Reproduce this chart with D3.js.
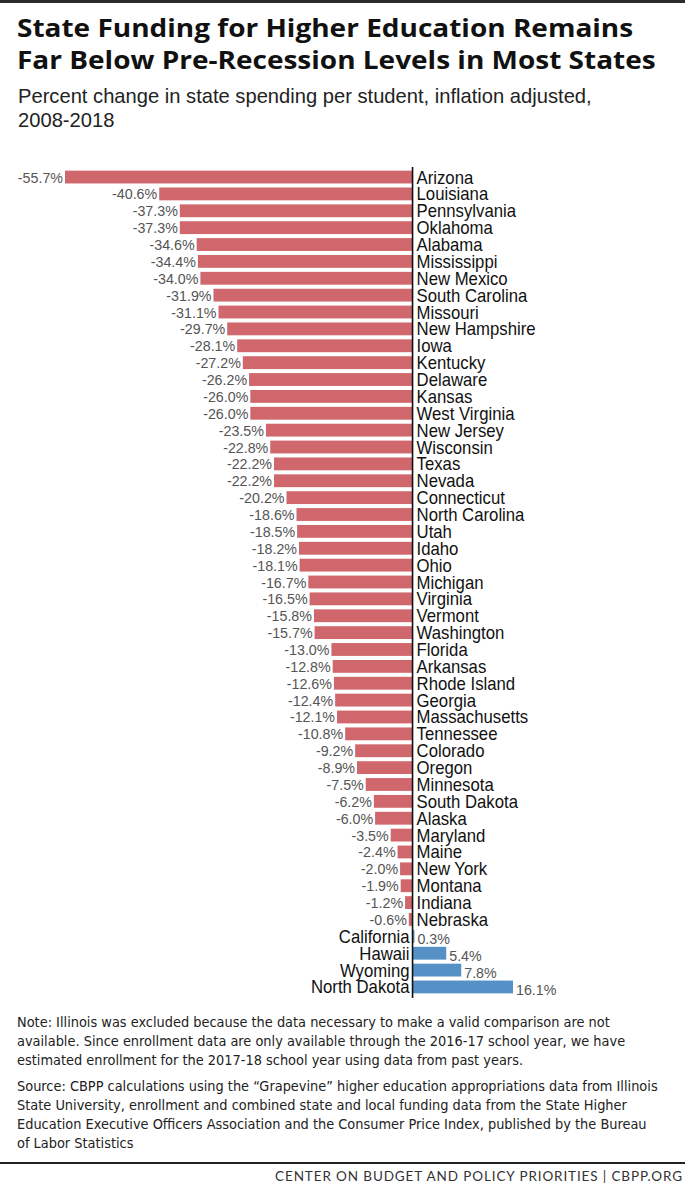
<!DOCTYPE html>
<html>
<head>
<meta charset="utf-8">
<script src="https://cdn.jsdelivr.net/npm/d3@7"></script>
<style>
  body { margin: 0; background: #fff; }
  svg { display: block; }
</style>
</head>
<body>
<script>
// states ordered top to bottom, values in percent
var states = ["Arizona", "Louisiana", "Pennsylvania", "Oklahoma", "Alabama", "Mississippi", "New Mexico",
  "South Carolina", "Missouri", "New Hampshire", "Iowa", "Kentucky", "Delaware", "Kansas", "West Virginia",
  "New Jersey", "Wisconsin", "Texas", "Nevada", "Connecticut", "North Carolina", "Utah", "Idaho", "Ohio",
  "Michigan", "Virginia", "Vermont", "Washington", "Florida", "Arkansas", "Rhode Island", "Georgia",
  "Massachusetts", "Tennessee", "Colorado", "Oregon", "Minnesota", "South Dakota", "Alaska", "Maryland",
  "Maine", "New York", "Montana", "Indiana", "Nebraska", "California", "Hawaii", "Wyoming", "North Dakota"]
var values = [-55.7, -40.6, -37.3, -37.3, -34.6, -34.4, -34.0, -31.9, -31.1, -29.7, -28.1, -27.2, -26.2,
  -26.0, -26.0, -23.5, -22.8, -22.2, -22.2, -20.2, -18.6, -18.5, -18.2, -18.1, -16.7, -16.5, -15.8, -15.7,
  -13.0, -12.8, -12.6, -12.4, -12.1, -10.8, -9.2, -8.9, -7.5, -6.2, -6.0, -3.5, -2.4, -2.0, -1.9, -1.2,
  -0.6, 0.3, 5.4, 7.8, 16.1]

var titleLines = ["State Funding for Higher Education Remains", "Far Below Pre-Recession Levels in Most States"]
var subtitleLines = ["Percent change in state spending per student, inflation adjusted,", "2008-2018"]
var noteLines = ["Note: Illinois was excluded because the data necessary to make a valid comparison are not",
  "available. Since enrollment data are only available through the 2016-17 school year, we have",
  "estimated enrollment for the 2017-18 school year using data from past years."]
var sourceLines = ["Source: CBPP calculations using the \u201cGrapevine\u201d higher education appropriations data from Illinois",
  "State University, enrollment and combined state and local funding data from the State Higher",
  "Education Executive Officers Association and the Consumer Price Index, published by the Bureau",
  "of Labor Statistics"]
var footer = "CENTER ON BUDGET AND POLICY PRIORITIES | CBPP.ORG"

var W = 685, H = 1183
var sans = "'Liberation Sans', Arial, sans-serif"
var boldFont = "'Open Sans', 'Lato', sans-serif"
var noteFont = "'DejaVu Sans Condensed', 'DejaVu Sans', sans-serif"

var data = states.map((s, i) => ({ state: s, value: values[i] }))

// squeeze/stretch text horizontally around its anchor point
function place(x, y, sx) {
  return "translate(" + x + "," + y + ") scale(" + sx + ",1)"
}

var svg = d3.select("body").append("svg")
  .attr("width", W)
  .attr("height", H)

// top rule
svg.append("rect").attr("x", 0).attr("y", 0).attr("width", W).attr("height", 3).attr("fill", "#2b2b2b")

svg.append("g").selectAll("text")
  .data(titleLines)
  .enter().append("text")
  .attr("transform", (d, i) => place(17, 37 + i * 32, 1.12))
  .attr("font-family", boldFont)
  .attr("font-weight", 700)
  .attr("font-size", 25)
  .attr("fill", "#111")
  .text(d => d)

svg.append("g").selectAll("text")
  .data(subtitleLines)
  .enter().append("text")
  .attr("transform", (d, i) => place(18, 103 + i * 24, 0.96))
  .attr("font-family", sans)
  .attr("font-size", 21)
  .attr("fill", "#222")
  .text(d => d)

var x = d3.scaleLinear()
  .domain([-55.7, 16.1])
  .range([65, 513])

var y = d3.scaleBand()
  .domain(states)
  .range([168.6, 995.4])
  .paddingInner(0.24)
  .paddingOuter(0.12)

var bars = svg.append("g")

bars.selectAll("rect")
  .data(data)
  .enter().append("rect")
  .attr("x", d => x(Math.min(0, d.value)))
  .attr("y", d => y(d.state))
  .attr("width", d => Math.abs(x(d.value) - x(0)))
  .attr("height", y.bandwidth())
  .attr("fill", d => d.value < 0 ? "#cf676c" : "#5590c6")

// zero line
svg.append("line")
  .attr("x1", x(0)).attr("x2", x(0))
  .attr("y1", 167).attr("y2", 998)
  .attr("stroke", "#111")
  .attr("stroke-width", 1.6)

// value labels
bars.selectAll("text.val")
  .data(data)
  .enter().append("text")
  .attr("class", "val")
  .attr("transform", d => place(d.value < 0 ? x(d.value) - 2 : x(d.value) + 3,
    y(d.state) + y.bandwidth() / 2 + (d.value < 0 ? 5.5 : 8), 0.92))
  .attr("text-anchor", d => d.value < 0 ? "end" : "start")
  .attr("font-family", sans)
  .attr("font-size", 15.5)
  .attr("fill", "#555")
  .text(d => d.value.toFixed(1) + "%")

// state labels
bars.selectAll("text.state")
  .data(data)
  .enter().append("text")
  .attr("class", "state")
  .attr("transform", d => place(d.value < 0 ? x(0) + 4 : x(0) - 3,
    y(d.state) + y.bandwidth() / 2 + 6.5, 0.93))
  .attr("text-anchor", d => d.value < 0 ? "start" : "end")
  .attr("font-family", sans)
  .attr("font-size", 18)
  .attr("fill", "#111")
  .text(d => d.state)

// notes
svg.append("g").selectAll("text")
  .data(noteLines)
  .enter().append("text")
  .attr("x", 17)
  .attr("y", (d, i) => 1027 + i * 19)
  .attr("font-family", noteFont)
  .attr("font-size", 14.4)
  .attr("fill", "#222")
  .text(d => d)

svg.append("g").selectAll("text")
  .data(sourceLines)
  .enter().append("text")
  .attr("x", 17)
  .attr("y", (d, i) => 1091 + i * 19)
  .attr("font-family", noteFont)
  .attr("font-size", 14.4)
  .attr("fill", "#222")
  .text(d => d)

svg.append("line")
  .attr("x1", 0).attr("x2", W)
  .attr("y1", 1163).attr("y2", 1163)
  .attr("stroke", "#222")
  .attr("stroke-width", 2)

svg.append("text")
  .attr("x", 683)
  .attr("y", 1181)
  .attr("text-anchor", "end")
  .attr("font-family", "'Lato', 'Open Sans', sans-serif")
  .attr("font-size", 13.5)
  .attr("letter-spacing", 0.88)
  .attr("fill", "#333")
  .text(footer)
</script>
</body>
</html>
